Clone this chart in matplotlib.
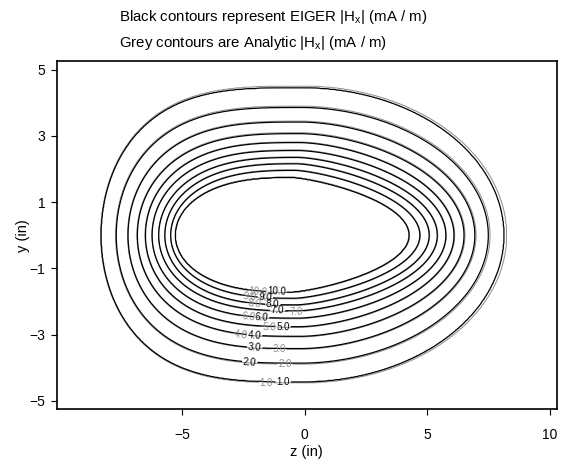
import numpy as np
import matplotlib
matplotlib.use('Agg')
import matplotlib.pyplot as plt

plt.rcParams['font.family'] = ['Liberation Sans', 'DejaVu Sans']

# contour levels (mA / m)
levels = [1, 2, 3, 4, 5, 6, 7, 8, 9, 10]

# EIGER contours: extents of each level (in)
eiger_left = [-8.28, -7.67, -7.19, -6.81, -6.48, -6.21, -5.94, -5.69, -5.45, -5.27]
eiger_right = [8.12, 7.49, 6.94, 6.50, 6.09, 5.76, 5.41, 5.08, 4.70, 4.27]
eiger_top = [4.45, 3.86, 3.42, 3.07, 2.80, 2.56, 2.35, 2.16, 1.96, 1.75]
eiger_bottom = [-4.42, -3.86, -3.42, -3.05, -2.76, -2.50, -2.28, -2.10, -1.90, -1.72]

# Analytic contours: extents of each level
anal_left = [-8.30, -7.70, -7.21, -6.83, -6.50, -6.22, -5.95, -5.70, -5.46, -5.28]
anal_right = [8.23, 7.56, 6.99, 6.54, 6.12, 5.78, 5.43, 5.10, 4.72, 4.29]
anal_top = [4.50, 3.90, 3.45, 3.10, 2.82, 2.58, 2.37, 2.18, 1.98, 1.77]
anal_bottom = [-4.45, -3.89, -3.44, -3.07, -2.78, -2.52, -2.30, -2.12, -1.92, -1.74]

# flatness of the left / right halves of each contour
q_left = [3.3, 3.2, 3.1, 3.0, 2.95, 2.9, 2.8, 2.75, 2.7, 2.6]
q_right = [2.0, 1.9, 1.8, 1.72, 1.64, 1.57, 1.5, 1.44, 1.38, 1.32]

# where the inline labels sit (z, in)
eiger_label_z = [-0.87, -2.23, -2.03, -2.03, -0.87, -1.75, -1.10, -1.29, -1.60, -1.15]
anal_label_z = [-1.55, -0.80, -1.04, -2.60, -1.45, -2.30, -0.35, -2.05, -2.25, -1.90]


def level_dist(z, y, left, right, top, bottom, ql, qr):
    zc = (left + right) / 2
    u = np.where(z < zc, (zc - z) / (zc - left), (z - zc) / (right - zc))
    v = np.where(y > 0, y / top, -y / (-bottom))
    q = np.where(z < zc, ql, qr)
    return np.sqrt(np.abs(u) ** q + v ** 2) - 1


def field(z, y, left, right, top, bottom):
    G = np.stack([level_dist(z, y, left[i], right[i], top[i], bottom[i], q_left[i], q_right[i])
                  for i in range(len(levels))])
    n = len(levels)
    count = (G <= 0).sum(axis=0)
    V = np.empty(z.shape)
    out = count == 0
    V[out] = levels[0] - G[0][out]
    inn = count == n
    V[inn] = levels[-1] - G[-1][inn]
    mid = (~out) & (~inn)
    c = count[mid]
    g_in = G[c - 1, mid]
    g_out = G[c, mid]
    V[mid] = np.array(levels)[c - 1] + (-g_in) / (g_out - g_in)
    return V


def bottom_point(i, z, left, right, bottom):
    zc = (left[i] + right[i]) / 2
    if z < zc:
        u, q = (zc - z) / (zc - left[i]), q_left[i]
    else:
        u, q = (z - zc) / (right[i] - zc), q_right[i]
    return (z, bottom[i] * np.sqrt(1 - u ** q))


zz = np.linspace(-10.1, 10.27, 800)
yy = np.linspace(-5.25, 5.25, 450)
Z, Y = np.meshgrid(zz, yy)
H_eiger = field(Z, Y, eiger_left, eiger_right, eiger_top, eiger_bottom)
H_anal = field(Z, Y, anal_left, anal_right, anal_top, anal_bottom)

fig = plt.figure(figsize=(5.61, 4.73), dpi=100)
ax = fig.add_axes([0.101, 0.135, 0.891, 0.735])

cs_a = ax.contour(Z, Y, H_anal, levels=levels, colors='#8c8c8c', linewidths=0.7, zorder=1)
pos_a = [bottom_point(i, anal_label_z[i], anal_left, anal_right, anal_bottom) for i in range(len(levels))]
lab_a = ax.clabel(cs_a, levels, fmt='%.1f', fontsize=7, inline=True, inline_spacing=1, manual=pos_a)

cs_e = ax.contour(Z, Y, H_eiger, levels=levels, colors='black', linewidths=0.9, zorder=2)
pos_e = [bottom_point(i, eiger_label_z[i], eiger_left, eiger_right, eiger_bottom) for i in range(len(levels))]
lab_e = ax.clabel(cs_e, levels, fmt='%.1f', fontsize=7, inline=True, inline_spacing=1, manual=pos_e)
for t in lab_e:
    t.set_zorder(4)

ax.set_xlim(-10.1, 10.27)
ax.set_ylim(-5.25, 5.25)
ax.set_xticks([-5, 0, 5, 10])
ax.set_yticks([-5, -3, -1, 1, 3, 5])
ax.tick_params(direction='out', length=4.5, width=0.8, labelsize=10)
ax.tick_params(axis='x', pad=9)
for s in ax.spines.values():
    s.set_linewidth(1.2)
ax.set_xlabel('z (in)', fontsize=10.5, labelpad=2)
ax.set_ylabel('y (in)', fontsize=10.5, labelpad=0)

fig.text(0.212, 1 - 17 / 473, r'Black contours represent EIGER $\mathregular{|H_x|}$ (mA / m)',
         fontsize=10.8, va='center', ha='left')
fig.text(0.212, 1 - 43 / 473, r'Grey contours are Analytic $\mathregular{|H_x|}$ (mA / m)',
         fontsize=10.8, va='center', ha='left')

fig.savefig('out.png', dpi=100)
